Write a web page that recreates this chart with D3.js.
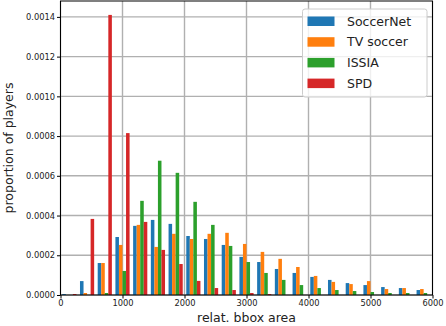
<!DOCTYPE html>
<html><head><meta charset="utf-8">
<script src="https://cdn.jsdelivr.net/npm/d3@7"></script>
<style>body{margin:0;background:#fff}svg{display:block}text{font-family:"DejaVu Sans",sans-serif}</style>
</head><body>
<script>
const seriesNames = ["SoccerNet","TV soccer","ISSIA","SPD"];
const colors = ["#1f77b4","#ff7f0e","#2ca02c","#d62728"];
const binEdgesMax = 6000, nBins = 21;
const soccerNet = [0.000005,0.00007,0.000161,0.000292,0.000348,0.000378,0.000358,0.000297,0.000282,0.000252,0.000192,0.000166,0.000131,0.000111,0.000091,0.000076,0.00006,0.00005,0.00004,0.000035,0.000025];
const tvSoccer = [0,0.00001,0.000161,0.000252,0.000353,0.000242,0.000308,0.000282,0.000308,0.000313,0.000257,0.000217,0.000182,0.000141,0.000096,0.000066,0.000055,0.00007,0.00003,0.000035,0.00003];
const issia = [0,0,0.00001,0.000121,0.000474,0.000676,0.000615,0.000469,0.000353,0.000247,0.000166,0.000111,0.000076,0.00005,0.000035,0.000025,0.00002,0.000015,0.00001,0.00001,0.00001];
const spd = [0.000005,0.000383,0.00141,0.000815,0.000368,0.000227,0.000156,0.000071,0.000035,0.000025,0.00001,0.000005,0,0,0,0,0,0,0,0,0];
const xTicks = [0,1000,2000,3000,4000,5000,6000];
const yTicks = [0,0.0002,0.0004,0.0006,0.0008,0.0010,0.0012,0.0014];
const allSeries = [soccerNet,tvSoccer,issia,spd];

const W=446,H=326, L=60.5, R=432.5, T=1, B=295;
const svg=d3.select("body").append("svg").attr("width",W).attr("height",H);
const x=d3.scaleLinear().domain([0,6000]).range([L,R]);
const y=d3.scaleLinear().domain([0,0.00148]).range([B,T]);
const bw = binEdgesMax/nBins;

// grid
svg.append("g").selectAll("line").data(xTicks).join("line")
  .attr("x1",d=>x(d)).attr("x2",d=>x(d)).attr("y1",T).attr("y2",B)
  .attr("stroke","#b0b0b0").attr("stroke-width",1.4);
svg.append("g").selectAll("line").data(yTicks).join("line")
  .attr("x1",L).attr("x2",R).attr("y1",d=>y(d)).attr("y2",d=>y(d))
  .attr("stroke","#b0b0b0").attr("stroke-width",1.4);

// bars
allSeries.forEach((s,si)=>{
  svg.append("g").selectAll("rect").data(s).join("rect")
    .attr("x",(d,i)=>x(i*bw + 0.1*bw + si*0.2*bw))
    .attr("width",x(0.2*bw)-x(0))
    .attr("y",d=>y(d)).attr("height",d=>y(0)-y(d))
    .attr("fill",colors[si]);
});

// frame
svg.append("rect").attr("x",L).attr("y",T).attr("width",R-L).attr("height",B-T)
  .attr("fill","none").attr("stroke","#000").attr("stroke-width",1);

// axes
const xa=svg.append("g").attr("transform",`translate(0,${B})`)
  .call(d3.axisBottom(x).tickValues(xTicks).tickFormat(d3.format("d")).tickSize(3.5).tickPadding(2));
const ya=svg.append("g").attr("transform",`translate(${L},0)`)
  .call(d3.axisLeft(y).tickValues(yTicks).tickFormat(d3.format(".4f")).tickSize(3.5).tickPadding(2));
[xa,ya].forEach(a=>{a.select(".domain").remove();
  a.selectAll("text").attr("font-size",8.3).attr("fill","#222").attr("font-family","DejaVu Sans");
  a.selectAll("line").attr("stroke","#000");});

svg.append("text").attr("x",(L+R)/2).attr("y",322).attr("text-anchor","middle")
  .attr("font-size",12.5).attr("fill","#222").text("relat. bbox area");
svg.append("text").attr("transform",`translate(13,${(T+B)/2}) rotate(-90)`).attr("text-anchor","middle")
  .attr("font-size",12.5).attr("fill","#222").text("proportion of players");

// legend
const lg=svg.append("g");
lg.append("rect").attr("x",302.5).attr("y",9).attr("width",124.5).attr("height",88).attr("rx",2.5)
  .attr("fill","#fff").attr("fill-opacity",0.8).attr("stroke","#ccc").attr("stroke-width",1);
seriesNames.forEach((n,i)=>{
  const cy=21+i*20.7;
  lg.append("rect").attr("x",307.5).attr("y",cy-4.5).attr("width",27).attr("height",9.5).attr("fill",colors[i]);
  lg.append("text").attr("x",347).attr("y",cy+4.5).attr("font-size",12.5).attr("fill","#222").text(n);
});
</script>
</body></html>
